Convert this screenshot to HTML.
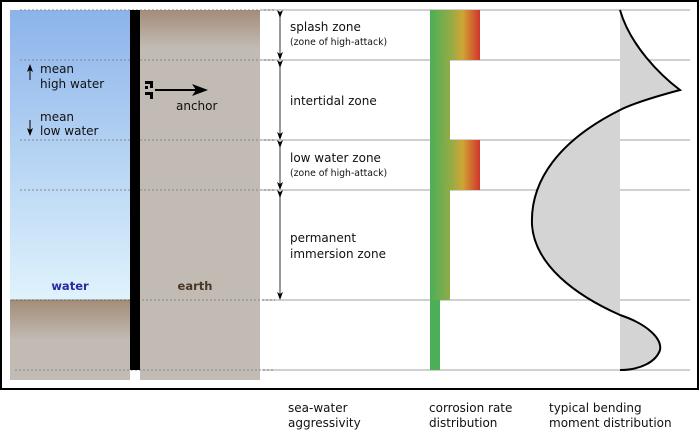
<!DOCTYPE html>
<html><head><style>
body{margin:0;background:#fff;}
svg{display:block;font-family:"DejaVu Sans","Liberation Sans",sans-serif;}
</style></head><body>
<svg width="700" height="440" viewBox="0 0 700 440" xmlns="http://www.w3.org/2000/svg">
<defs>
<linearGradient id="wat" x1="0" y1="0" x2="0" y2="1"><stop offset="0" stop-color="#8cb3ea"/><stop offset="1" stop-color="#dff3fc"/></linearGradient>
<linearGradient id="earthTop" x1="0" y1="0" x2="0" y2="1"><stop offset="0" stop-color="#a48c78"/><stop offset="1" stop-color="#c1bbb4"/></linearGradient>
<linearGradient id="cor" x1="0" y1="0" x2="1" y2="0"><stop offset="0" stop-color="#4caf55"/><stop offset="0.45" stop-color="#9aab45"/><stop offset="0.65" stop-color="#cfa634"/><stop offset="1" stop-color="#d2352c"/></linearGradient>
<linearGradient id="cor2" x1="0" y1="0" x2="1" y2="0"><stop offset="0" stop-color="#4caf55"/><stop offset="1" stop-color="#90ab48"/></linearGradient>
<marker id="ah" markerWidth="8" markerHeight="8" refX="4" refY="4" orient="auto"><path d="M0,1 L8,4 L0,7 L2,4z" fill="#000"/></marker>
</defs>
<rect x="1" y="1" width="697" height="388" fill="#fff" stroke="#000" stroke-width="2"/>
<rect x="10" y="10" width="120" height="290" fill="url(#wat)"/>
<rect x="140" y="10" width="120" height="370" fill="#c1bbb4"/>
<rect x="140" y="10" width="120" height="38" fill="url(#earthTop)"/>
<rect x="10" y="300" width="120" height="80" fill="#c1bbb4"/>
<rect x="10" y="300" width="120" height="40" fill="url(#earthTop)"/>
<line x1="10" y1="300" x2="130" y2="300" stroke="#7a5a40" stroke-width="1"/>
<g stroke="#d0d0d0" stroke-width="2">
<line x1="262" y1="10" x2="690" y2="10"/><line x1="262" y1="60" x2="690" y2="60"/><line x1="262" y1="140" x2="690" y2="140"/><line x1="262" y1="190" x2="690" y2="190"/><line x1="262" y1="300" x2="690" y2="300"/><line x1="262" y1="370" x2="690" y2="370"/>
</g>
<g stroke="#888" stroke-width="1" stroke-dasharray="2,2">
<line x1="20" y1="10" x2="275" y2="10"/><line x1="20" y1="60" x2="275" y2="60"/><line x1="20" y1="140" x2="275" y2="140"/><line x1="20" y1="190" x2="275" y2="190"/><line x1="10" y1="300" x2="275" y2="300"/><line x1="15" y1="370" x2="275" y2="370"/>
</g>
<rect x="130" y="10" width="10" height="360" fill="#000"/>
<g fill="#000"><rect x="145" y="81" width="8" height="3"/><rect x="150" y="81" width="3" height="7"/><rect x="145" y="92" width="8" height="3"/><rect x="150" y="92" width="3" height="7"/><rect x="145" y="86" width="3" height="3"/><rect x="145" y="92" width="3" height="3"/></g>
<line x1="155" y1="90" x2="200" y2="90" stroke="#000" stroke-width="2" marker-end="url(#ah)"/>
<text x="176" y="110" font-size="12" fill="#111">anchor</text>
<line x1="30" y1="80" x2="30" y2="68" stroke="#000" stroke-width="1" marker-end="url(#ah)"/>
<text x="40" y="73" font-size="12" fill="#111">mean</text><text x="40" y="88" font-size="12" fill="#111">high water</text>
<line x1="30" y1="120" x2="30" y2="132" stroke="#000" stroke-width="1" marker-end="url(#ah)"/>
<text x="40" y="121" font-size="12" fill="#111">mean</text><text x="40" y="135" font-size="12" fill="#111">low water</text>
<text x="70" y="290" font-size="11.5" font-weight="bold" fill="#2a2aa0" text-anchor="middle">water</text>
<text x="195" y="290" font-size="11.5" font-weight="bold" fill="#4a3826" text-anchor="middle">earth</text>
<g stroke="#333" stroke-width="1" marker-end="url(#ah)" marker-start="url(#ah)">
<line x1="280" y1="14" x2="280" y2="56"/><line x1="280" y1="64" x2="280" y2="136"/><line x1="280" y1="144" x2="280" y2="186"/><line x1="280" y1="194" x2="280" y2="296"/>
</g>
<g font-size="12" fill="#111">
<text x="290" y="31">splash zone</text><text x="290" y="45" font-size="9.3">(zone of high-attack)</text>
<text x="290" y="105">intertidal zone</text>
<text x="290" y="162">low water zone</text><text x="290" y="176" font-size="9.3">(zone of high-attack)</text>
<text x="290" y="242">permanent</text><text x="290" y="258">immersion zone</text>
</g>
<rect x="430" y="10" width="50" height="50" fill="url(#cor)"/>
<rect x="430" y="60" width="20" height="80" fill="url(#cor2)"/>
<rect x="430" y="140" width="50" height="50" fill="url(#cor)"/>
<rect x="430" y="190" width="20" height="110" fill="url(#cor2)"/>
<rect x="430" y="300" width="10" height="70" fill="#4caf55"/>
<path d="M620,10 C630,45 660,75 680,90 C650,98 630,105 620,110 C560,140 530,180 532,225 C535,265 575,295 620,315 C650,325 662,340 660,350 C656,362 640,370 620,370 Z" fill="#d4d4d4"/>
<path d="M620,10 C630,45 660,75 680,90 C650,98 630,105 620,110 C560,140 530,180 532,225 C535,265 575,295 620,315 C650,325 662,340 660,350 C656,362 640,370 620,370" fill="none" stroke="#000" stroke-width="2"/>
<g font-size="12" fill="#111">
<text x="288" y="412">sea-water</text><text x="288" y="427">aggressivity</text>
<text x="429" y="412">corrosion rate</text><text x="429" y="427">distribution</text>
<text x="549" y="412">typical bending</text><text x="549" y="427">moment distribution</text>
</g>
</svg>
</body></html>
